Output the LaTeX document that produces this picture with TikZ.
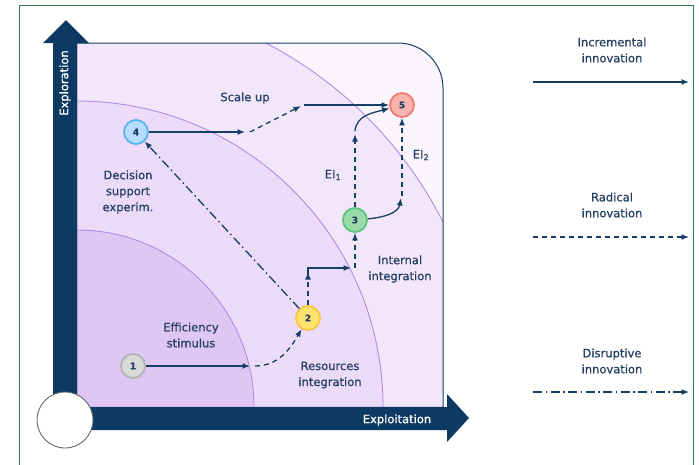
\documentclass[tikz,border=0pt]{standalone}
\usepackage{fontspec}
\setmainfont{DejaVu Sans}
\newfontfamily\lblfont[FakeBold=0.8]{DejaVu Sans}
\usetikzlibrary{arrows.meta}

\definecolor{navy}{HTML}{173F66}
\definecolor{axisblue}{HTML}{0D3A62}
\definecolor{txtblue}{HTML}{263F63}
\definecolor{zoneA}{HTML}{DFC7F3}
\definecolor{zoneB}{HTML}{EBDAF8}
\definecolor{zoneC}{HTML}{F2E6FB}
\definecolor{zoneD}{HTML}{FAF4FD}
\definecolor{arcline}{HTML}{B08DE3}
\definecolor{framegreen}{HTML}{2E8050}

\tikzset{
  innov/.style={draw=navy, line width=1.3pt, -{Latex[length=7.5pt,width=6pt]}},
  radical/.style={innov, dash pattern=on 5pt off 4pt},
  disrupt/.style={innov, dash pattern=on 9pt off 3.5pt on 1.5pt off 3.5pt},
  stage/.style={circle, minimum size=24pt, inner sep=0pt, line width=1.8pt,
    font=\lblfont\bfseries\small, text=txtblue},
  lbl/.style={align=center, text=txtblue, font=\lblfont\fontsize{11.5}{16}\selectfont},
}

\begin{document}
\begin{tikzpicture}[x=1pt, y=-1pt]
\useasboundingbox (0,0) rectangle (699,464);
\fill[white] (0,0) rectangle (699,464);
\draw[framegreen, line width=1pt] (19,470) -- (19,5) -- (693,5) -- (693,470);

% plot area with the three zones
\fill[zoneD] (77,407) -- (77,43) -- (398,43) arc[start angle=-90, end angle=0, radius=45] -- (443,407) -- cycle;
\begin{scope}
  \clip (77,407) -- (77,43) -- (398,43) arc[start angle=-90, end angle=0, radius=45] -- (443,407) -- cycle;
  \filldraw[fill=zoneC, draw=arcline, line width=0.9pt] (77,407) -- (487,407) arc[start angle=0, end angle=-90, radius=410] -- cycle;
  \filldraw[fill=zoneB, draw=arcline, line width=0.9pt] (77,407) -- (383,407) arc[start angle=0, end angle=-90, radius=306] -- cycle;
  \filldraw[fill=zoneA, draw=arcline, line width=0.9pt] (77,407) -- (254,407) arc[start angle=0, end angle=-90, radius=177] -- cycle;
\end{scope}
\draw[navy, line width=1pt] (77,43) -- (398,43) arc[start angle=-90, end angle=0, radius=45] -- (443,407);

% axes
\fill[axisblue] (53,420) -- (53,43) -- (43,43) -- (66,20) -- (89,43) -- (77,43) -- (77,407)
  -- (447,407) -- (447,394) -- (469,418) -- (447,442) -- (447,430) -- (65,430) -- cycle;
\node[circle, fill=white, draw=gray!80!black, line width=0.9pt, minimum size=56pt] (origin) at (65,420) {};
\node[text=white, rotate=90, font=\lblfont\fontsize{11.5}{14}\selectfont] (yaxis) at (65,83) {Exploration};
\node[text=white, font=\lblfont\fontsize{11.5}{14}\selectfont] (xaxis) at (397,420) {Exploitation};

% stages
\node[stage, fill=gray!30, draw=gray!60] (n1) at (133,366) {1};
\node[stage, fill={rgb,255:red,255;green,227;blue,110}, draw={rgb,255:red,246;green,201;blue,69}] (n2) at (308,318) {2};
\node[stage, fill={rgb,255:red,154;green,219;blue,169}, draw={rgb,255:red,92;green,196;blue,122}] (n3) at (355,220) {3};
\node[stage, fill={rgb,255:red,179;green,221;blue,251}, draw={rgb,255:red,90;green,178;blue,242}] (n4) at (136,132) {4};
\node[stage, fill={rgb,255:red,247;green,179;blue,174}, draw={rgb,255:red,242;green,122;blue,114}] (n5) at (402,105) {5};

% labels
\node[lbl] (scale) at (245,98) {Scale up};
\node[lbl] (decision) at (128,192) {Decision\\support\\experim.};
\node[lbl] (effic) at (191,335) {Efficiency\\stimulus};
\node[lbl] (resour) at (330,375) {Resources\\integration};
\node[lbl] (intern) at (400,269) {Internal\\integration};
\node[lbl] (ei1) at (333,175) {EI\textsubscript{1}};
\node[lbl] (ei2) at (421,155) {EI\textsubscript{2}};

% connectors
\coordinate (c1) at (250,366);
\coordinate (c1b) at (255,366);
\coordinate (c2) at (308,272);
\coordinate (c2b) at (308,275);
\coordinate (c3) at (351,268);
\coordinate (c3b) at (355,268);
\coordinate (c4) at (245,132);
\coordinate (c4b) at (250,132);
\coordinate (c4c) at (301,106);
\coordinate (c4d) at (304,105);
\coordinate (c5) at (355,134);
\coordinate (c5b) at (355,131);
\coordinate (c6) at (401,198);
\coordinate (c6b) at (402,196);

\draw[innov] (n1) -- (c1);
\draw[radical] (c1b) to[out=0, in=-120] (n2);
\draw[radical] (n2) -- (c2);
\draw[innov] (c2b) |- (c3);
\draw[radical] (c3b) -- (n3);
\draw[radical] (n3) -- (c5);
\draw[innov] (c5b) to[out=85, in=195] (n5);
\draw[innov] (n3) to[out=5, in=-100] (c6);
\draw[radical] (c6b) -- (n5);
\draw[innov] (n4) -- (c4);
\draw[radical] (c4b) -- (c4c);
\draw[innov] (c4d) -- (n5);
\draw[disrupt] (n2) -- (n4);

% legend
\node[lbl] (incr) at (612,50) {Incremental\\innovation};
\node[lbl] (radi) at (612,205) {Radical\\innovation};
\node[lbl] (disr) at (612,361) {Disruptive\\innovation};
\coordinate (la) at (533,82);
\coordinate (lb) at (689,82);
\coordinate (lc) at (533,237);
\coordinate (ld) at (689,237);
\coordinate (le) at (533,392);
\coordinate (lf) at (689,392);
\draw[innov] (la) -- (lb);
\draw[radical] (lc) -- (ld);
\draw[disrupt] (le) -- (lf);
\end{tikzpicture}
\end{document}
